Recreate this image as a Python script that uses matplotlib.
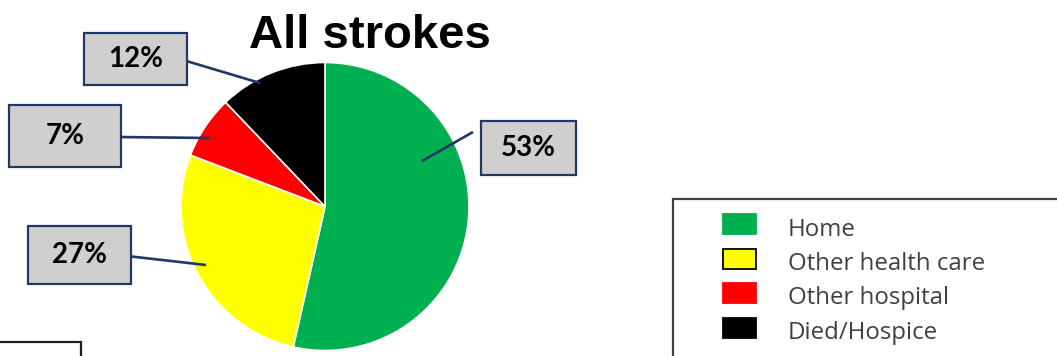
import matplotlib
matplotlib.use("Agg")
import matplotlib.pyplot as plt
from matplotlib.patches import Rectangle

# ---- data ----
categories = ["Home", "Other health care", "Other hospital", "Died/Hospice"]
values = [53, 27, 7, 12]
colors = ["#00B050", "#FFFF00", "#FF0000", "#000000"]
title = "All strokes"

# ---- layout (pixel coordinates, y measured downward) ----
W, H = 1057, 356
PIE_CENTER = (325, 206.5)
PIE_RADIUS = 144
# per slice: box centre, box size, leader start, leader end
LABEL_LAYOUT = [
    dict(box=(528.5, 148), size=(95, 54), start=(473, 132), end=(422, 161)),
    dict(box=(79.5, 255), size=(103, 58), start=(127, 256), end=(206, 265)),
    dict(box=(65, 136), size=(112, 62), start=(118, 137), end=(210, 138)),
    dict(box=(135.5, 59), size=(103, 52), start=(183, 60), end=(260, 83)),
]

def Y(y):
    return H - y

fig = plt.figure(figsize=(W / 100, H / 100), dpi=100)
ax = fig.add_axes([0, 0, 1, 1])

ax.pie(values, colors=colors, startangle=90, counterclock=False,
       center=(PIE_CENTER[0], Y(PIE_CENTER[1])), radius=PIE_RADIUS,
       wedgeprops=dict(edgecolor="white", linewidth=1.2))
ax.set_xlim(0, W)
ax.set_ylim(0, H)
ax.set_aspect("equal")
ax.axis("off")

ax.text(370, Y(48), title, ha="center", va="baseline",
        fontsize=34, fontweight="bold", family="Liberation Sans")

navy = "#1F3864"
for v, lay in zip(values, LABEL_LAYOUT):
    (bx, by), (bw, bh) = lay["box"], lay["size"]
    ax.plot([lay["start"][0], lay["end"][0]], [Y(lay["start"][1]), Y(lay["end"][1])],
            color=navy, lw=1.9, solid_capstyle="butt", zorder=3)
    ax.add_patch(Rectangle((bx - bw / 2, Y(by + bh / 2)), bw, bh, facecolor="#D0CECE",
                           edgecolor=navy, lw=1.6, zorder=4))
    ax.text(bx, Y(by), f"{v}%", ha="center", va="center", fontsize=20,
            fontweight="bold", family="Lato", zorder=5, color="black")

# legend (manual)
frame_col = "#404040"
ax.add_patch(Rectangle((673, Y(370)), 420, 370 - 199, facecolor="white",
                       edgecolor=frame_col, lw=1.6, clip_on=False, zorder=2))
for i, (cat, col) in enumerate(zip(categories, colors)):
    base = 235.5 + 34.5 * i
    cy = base - 8.5 - 3
    ec = "black" if col == "#FFFF00" else col
    ax.add_patch(Rectangle((723, Y(cy + 10)), 33, 20, facecolor=col,
                           edgecolor=ec, lw=1.3, zorder=3))
    ax.text(788, Y(base), cat, ha="left", va="baseline", fontsize=17.3,
            family="Open Sans", color="#404040", zorder=3)

# partial box at bottom-left
ax.add_patch(Rectangle((-20, Y(380)), 101, 380 - 342, facecolor="white",
                       edgecolor="#202020", lw=1.6, clip_on=False, zorder=2))

fig.savefig("out.png", dpi=100)
